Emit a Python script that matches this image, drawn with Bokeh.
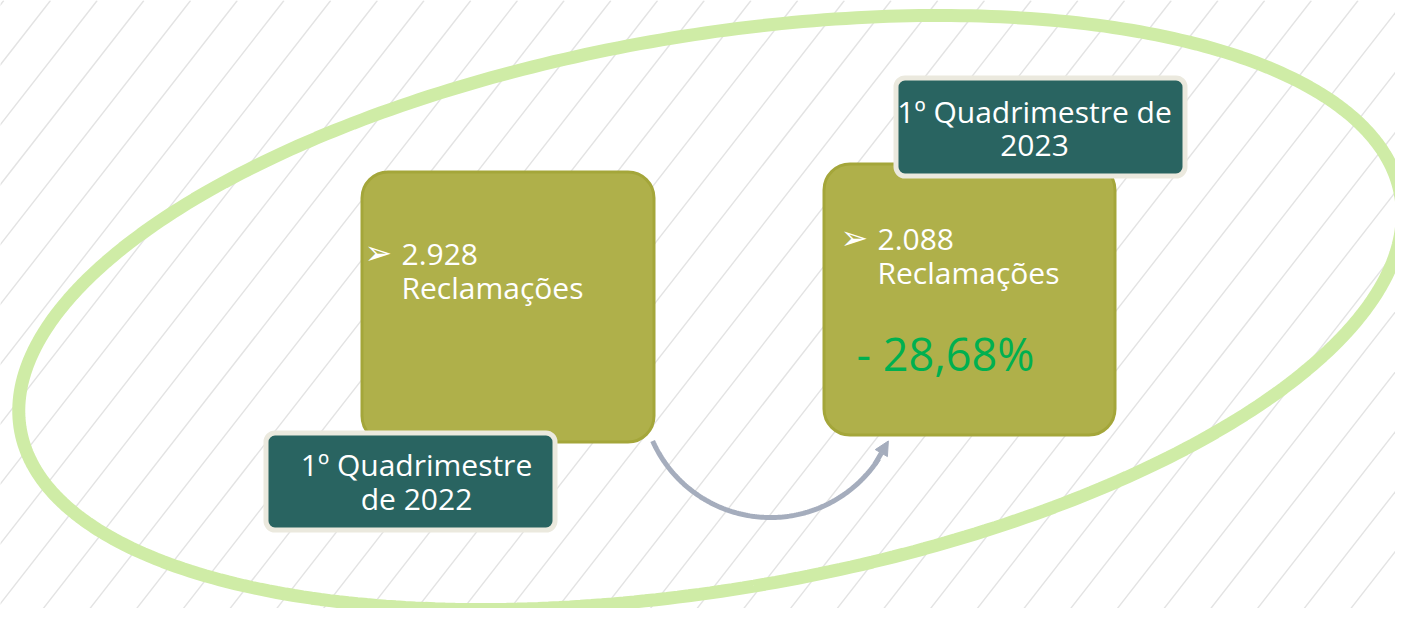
import numpy as np
from bokeh.plotting import figure
from bokeh.models import Range1d, Arrow, NormalHead
from bokeh.core.properties import value
from bokeh.embed import file_html
from bokeh.resources import INLINE

# ---- data ----
complaints = [2928, 2088]                     # Reclamações por período
change_pct = [-28.68]                          # variação
period_lines = [["1º Quadrimestre", "de 2022"],
                ["1º Quadrimestre de", "2023"]]
unit_label = "Reclamações"


def fmt_int(v):
    return f"{v:,}".replace(",", ".")


def fmt_pct(v):
    sign = "- " if v < 0 else "+ "
    return sign + f"{abs(v):.2f}".replace(".", ",") + "%"


# ---- layout (pixel-space of the slide) ----
W, H = 1395, 608
p = figure(width=W, height=H, output_backend="svg", toolbar_location=None,
           x_range=Range1d(0, W), y_range=Range1d(H, 0),
           min_border=0, background_fill_color="white", border_fill_color="white")
p.axis.visible = False
p.grid.visible = False
p.outline_line_color = None

# background diagonal hatch
k = np.arange(-4, 45)
x_top = 50 + 46.7 * k
p.segment(x0=x_top, y0=np.zeros_like(x_top), x1=x_top - 0.78 * 640, y1=np.full_like(x_top, 640),
          line_color="#e3e3e3", line_width=1.4)

# rotated ellipse outline
t = np.linspace(0, 2 * np.pi, 400)
cx, cy, a, b, th = 710, 312, 700, 277, np.deg2rad(-9.6)
ex = cx + a * np.cos(th) * np.cos(t) - b * np.sin(th) * np.sin(t)
ey = cy + a * np.sin(th) * np.cos(t) + b * np.cos(th) * np.sin(t)
p.line(ex, ey, line_color="#cfeca6", line_width=13)

# curved arrow between boxes
acx, acy, r = 770, 388, 129
phi = np.deg2rad(np.linspace(156, 33, 120))
p.line(acx + r * np.cos(phi), acy + r * np.sin(phi), line_color="#a5adbd", line_width=5)
p1, p2 = np.deg2rad(36), np.deg2rad(24)
p.add_layout(Arrow(x_start=acx + r * np.cos(p1), y_start=acy + r * np.sin(p1),
                   x_end=acx + r * np.cos(p2), y_end=acy + r * np.sin(p2),
                   line_color="#a5adbd", line_width=5,
                   end=NormalHead(size=14, fill_color="#a5adbd", line_color="#a5adbd")))

# olive boxes
box_l = [361.5, 823.5]
box_r = [653.5, 1114.5]
box_t = [171.5, 163.5]
box_b = [441.5, 434.5]
p.quad(left=box_l, right=box_r, top=box_t, bottom=box_b, border_radius=26,
       fill_color="#afb04a", line_color="#a4a63a", line_width=3)

# teal labels
lab_l = [265.5, 895.5]
lab_r = [554.5, 1184.5]
lab_t = [432.5, 77.5]
lab_b = [529.5, 175.5]
p.quad(left=lab_l, right=lab_r, top=lab_t, bottom=lab_b, border_radius=9,
       fill_color="#296461", line_color="#ebe9de", line_width=5)

font = value("Open Sans")
dy = -11  # baseline correction

# label texts
lab_cx = [416, 1034]
lab_y0 = [475, 122]
for i, lines in enumerate(period_lines):
    for j, ln in enumerate(lines):
        p.text(x=[lab_cx[i]], y=[lab_y0[i] + 34 * j + dy], text=[ln], text_font=font,
               text_font_size="30px", text_color="white", text_align="center",
               text_baseline="alphabetic")

# box texts
bul_x = [364, 840]
num_x = [401, 877]
num_y = [265, 250]
for i, v in enumerate(complaints):
    p.text(x=[bul_x[i]], y=[num_y[i] - 13], text=["➢"], text_font=value("DejaVu Sans"),
           text_font_size="33px", text_color="white", text_align="left", text_baseline="middle")
    p.text(x=[num_x[i]], y=[num_y[i] + dy], text=[fmt_int(v)], text_font=font,
           text_font_size="30px", text_color="white", text_align="left", text_baseline="alphabetic")
    p.text(x=[num_x[i]], y=[num_y[i] + 33 + dy], text=[unit_label], text_font=font,
           text_font_size="30px", text_color="white", text_align="left", text_baseline="alphabetic")

p.text(x=[856], y=[367 - 14], text=[fmt_pct(change_pct[0])], text_font=font,
       text_font_size="45px", text_color="#00b050", text_align="left", text_baseline="alphabetic")

open("out.html", "w").write(file_html(p, INLINE))
